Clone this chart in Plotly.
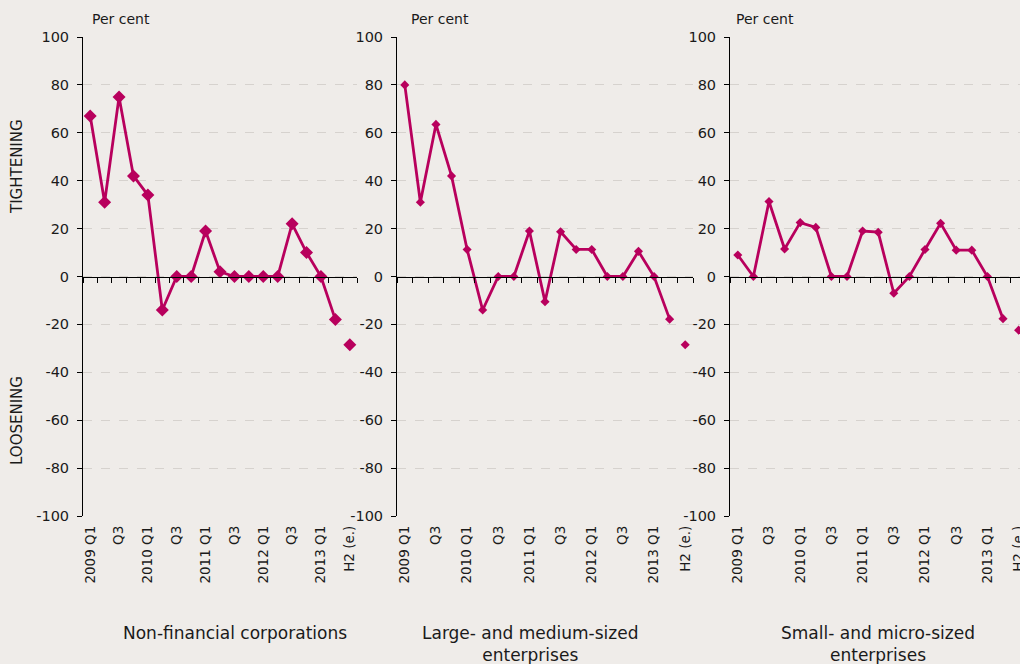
import plotly.graph_objects as go

# categories: quarters 2009 Q1 - 2013 Q2, then the expected H2
categories = [f"{yr} Q{q}" for yr in range(2009, 2014) for q in range(1, 5)][:18] + ["H2 (e.)"]
tick_cats = categories[::2]
tick_labels = ["2009 Q1", "Q3", "2010 Q1", "Q3", "2011 Q1", "Q3", "2012 Q1", "Q3", "2013 Q1", "H2 (e.)"]

y_ticks = [100, 80, 60, 40, 20, 0, -20, -40, -60, -80, -100]
y_tick_labels = [str(v) for v in y_ticks]

# net percentages
nfc = [67, 31, 75, 42, 34, -14, 0, 0, 19, 2, 0, 0, 0, 0, 22, 10, 0, -18, -28.5]
large_medium = [80, 31, 63.5, 42, 11.3, -14, 0, 0, 19, -10.5, 18.7, 11.3, 11.3, 0, 0, 10.5, 0, -17.8, -28.5]
small_micro = [9, 0, 31.3, 11.5, 22.5, 20.5, 0, 0, 19, 18.5, -7, 0, 11.3, 22.2, 11, 11, 0, -17.6, -22.4]

panel_titles = ["Non-financial corporations",
                "Large- and medium-sized<br>enterprises",
                "Small- and micro-sized<br>enterprises"]

LINE = "#B8005D"
BG = "#EFECE9"
GRID = "#D6D2CE"
FONT = "DejaVu Sans"
W, H = 1020, 664

panels = [
    dict(data=nfc, x0=83, x1=357, xr=[-0.5, 18.5], msize=10, px=90, tx=235),
    dict(data=large_medium, x0=397, x1=693, xr=[-0.5, 18.5], msize=7, px=409, tx=530),
    dict(data=small_micro, x0=730, x1=1020, xr=[-0.5, 18.09], msize=7, px=734, tx=878),
]

y_dom = [1 - 516 / H, 1 - 37 / H]
zero_pos = (y_dom[0] + y_dom[1]) / 2

fig = go.Figure()
layout = dict(
    width=W, height=H, autosize=False,
    margin=dict(l=0, r=0, t=0, b=0, autoexpand=False),
    paper_bgcolor=BG, plot_bgcolor=BG,
    showlegend=False,
    font=dict(family=FONT, size=14, color="#1a1a1a"),
)
annotations = []

for i, p in enumerate(panels):
    n = i + 1
    sfx = "" if n == 1 else str(n)
    zn = n + 3
    vals = p["data"]

    # line through the quarterly values
    fig.add_trace(go.Scatter(
        x=categories[:-1], y=vals[:-1], mode="lines+markers",
        line=dict(color=LINE, width=2.8),
        marker=dict(symbol="diamond", size=p["msize"], color=LINE),
        xaxis=f"x{sfx}", yaxis=f"y{sfx}", hoverinfo="x+y",
    ))
    # expected value, marker only
    fig.add_trace(go.Scatter(
        x=categories[-1:], y=vals[-1:], mode="markers",
        marker=dict(symbol="diamond", size=p["msize"], color=LINE),
        xaxis=f"x{zn}", yaxis=f"y{sfx}", hoverinfo="x+y",
    ))

    dom = [p["x0"] / W, p["x1"] / W]
    # bottom axis: labels only
    layout[f"xaxis{sfx}"] = dict(
        domain=dom, anchor=f"y{sfx}", type="category", automargin=False,
        categoryorder="array", categoryarray=categories, range=p["xr"],
        tickmode="array", tickvals=tick_cats, ticktext=tick_labels,
        tickangle=-90, ticks="", ticklabelstandoff=6,
        showline=False, showgrid=False, zeroline=False,
        tickfont=dict(size=13.5, color="#1a1a1a"),
    )
    # axis crossing at zero: line with ticks between categories
    layout[f"xaxis{zn}"] = dict(
        overlaying=f"x{sfx}", anchor="free", position=zero_pos, type="category",
        categoryorder="array", categoryarray=categories, range=p["xr"],
        tickmode="linear", tick0=0, dtick=1, tickson="boundaries", automargin=False,
        ticks="outside", ticklen=5, tickcolor="#000", showticklabels=False,
        showline=True, linecolor="#000", linewidth=1, showgrid=False, zeroline=False,
    )
    layout[f"yaxis{sfx}"] = dict(
        domain=y_dom, anchor=f"x{sfx}", range=[-100, 100], automargin=False,
        tickmode="array", tickvals=y_ticks, ticktext=y_tick_labels,
        ticks="outside", ticklen=5, tickcolor="#000", ticklabelstandoff=5,
        showline=True, linecolor="#000", linewidth=1,
        showgrid=True, gridcolor=GRID, griddash="dash", gridwidth=1,
        zeroline=False, tickfont=dict(size=14.5, color="#1a1a1a"),
    )

    annotations.append(dict(
        text="Per cent", x=p["px"] / W, y=1 - 19 / H, xref="paper", yref="paper",
        xanchor="left", yanchor="middle", showarrow=False, font=dict(size=14),
    ))
    annotations.append(dict(
        text=panel_titles[i], x=p["tx"] / W, y=1 - 621 / H, xref="paper", yref="paper",
        xanchor="center", yanchor="top", showarrow=False, font=dict(size=17),
    ))

for label, yc in [("TIGHTENING", 167), ("LOOSENING", 421)]:
    annotations.append(dict(
        text=label, x=17 / W, y=1 - yc / H, xref="paper", yref="paper",
        xanchor="center", yanchor="middle", textangle=-90, showarrow=False,
        font=dict(size=15),
    ))

layout["annotations"] = annotations
fig.update_layout(**layout)

# page body without the default 8px margin so the figure fills the window
fig.write_html(
    "out.html",
    config={"responsive": False, "displayModeBar": False},
    post_script="document.body.style.margin='0';document.body.style.overflow='hidden';",
)
